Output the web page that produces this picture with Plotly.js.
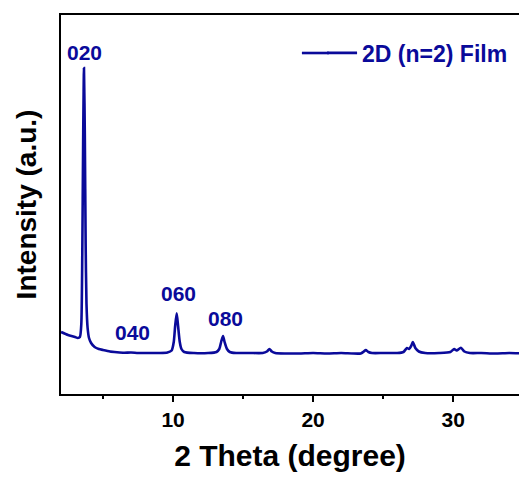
<!DOCTYPE html>
<html>
<head>
<meta charset="utf-8">
<script src="https://cdn.plot.ly/plotly-3.0.1.min.js"></script>
<style>html,body{margin:0;padding:0;background:#fff;}#chart{width:519px;height:477px;}</style>
</head>
<body>
<div id="chart"></div>
<script>
// 2 Theta (degree)
const twoTheta = [2.0, 2.5, 3.0, 3.2, 3.35, 3.45, 3.52, 3.58, 3.64, 3.70, 3.76, 3.82, 3.9, 4.0, 4.15, 4.4, 4.7, 5.0, 5.5, 6.0, 6.5, 7.0, 7.5, 8.0, 9.0, 9.6, 9.9, 10.05, 10.15, 10.26, 10.36, 10.48, 10.6, 10.8, 11.5, 12.5, 13.1, 13.3, 13.45, 13.57, 13.68, 13.85, 14.05, 14.5, 15.5, 16.4, 16.7, 16.88, 17.05, 17.3, 18.0, 19.0, 20.0, 21.0, 22.0, 23.4, 23.62, 23.76, 23.95, 24.2, 25.0, 26.0, 26.45, 26.7, 26.85, 27.0, 27.12, 27.3, 27.55, 28.0, 29.0, 29.8, 30.07, 30.25, 30.55, 30.8, 31.2, 32.0, 33.0, 34.0, 34.8];
// Intensity (a.u.)
const intensity = [62, 59, 57, 56, 57, 70, 140, 250, 326, 260, 150, 90, 66, 56, 51, 47, 45, 44, 42.5, 41.8, 41.3, 41.5, 41, 41, 41, 41.5, 43.5, 52, 68, 80.7, 68, 52, 45, 42, 41, 41, 42, 45, 53, 58, 52, 45, 42, 41, 41, 41, 42.5, 45, 42.5, 41, 40.5, 40.5, 41, 40.5, 41, 40.5, 42.5, 44, 42, 41, 41, 41, 42, 46, 45, 48, 52, 46, 42.5, 41, 41, 42, 45, 43.5, 46.3, 42.5, 41, 41, 40.5, 41, 40.7];
const seriesName = '2D (n=2) Film';
const peakLabels = ['020', '040', '060', '080'];
const peakLabelX = [3.71, 7.07, 10.36, 13.71];
const peakLabelY = [342, 62, 101, 76];
const xTickVals = [10, 20, 30];

const blue = '#0a0a9a';
const font = 'Liberation Sans, Arial, sans-serif';

const trace = {
  x: twoTheta, y: intensity, type: 'scatter', mode: 'lines', name: seriesName,
  line: {color: blue, width: 2.6, shape: 'spline', smoothing: 0.6}
};

const annotations = peakLabels.map((t, i) => ({
  x: peakLabelX[i], y: peakLabelY[i], xref: 'x', yref: 'y', text: t, showarrow: false,
  font: {family: font, size: 21, color: blue, weight: 'bold'}
}));

const layout = {
  width: 519, height: 477,
  margin: {l: 61, r: 0, t: 15, b: 83},
  paper_bgcolor: '#fff', plot_bgcolor: '#fff',
  showlegend: true,
  legend: {x: 0.57, y: 0.9, xanchor: 'left', yanchor: 'middle', bgcolor: 'rgba(0,0,0,0)', borderwidth: 0,
    font: {family: font, size: 23, color: blue, weight: 'bold'}},
  shapes: [{type: 'line', xref: 'paper', yref: 'paper', x0: 0.526, x1: 0.585, y0: 0.8997, y1: 0.8997,
    line: {color: blue, width: 2.6}}],
  xaxis: {
    range: [2, 34.7], showgrid: false, zeroline: false,
    showline: true, linecolor: '#000', linewidth: 2, mirror: true,
    ticks: 'outside', ticklen: 6, tickwidth: 2, tickcolor: '#000',
    tickvals: xTickVals, ticktext: xTickVals.map(String),
    minor: {tickvals: [5, 15, 25, 35], ticks: 'outside', ticklen: 3, tickwidth: 2, tickcolor: '#000'},
    tickfont: {family: font, size: 21, color: '#000', weight: 'bold'},
    title: {text: '2 Theta (degree)', font: {family: font, size: 30, color: '#000', weight: 'bold'}, standoff: 15}
  },
  yaxis: {
    range: [0, 379], showgrid: false, zeroline: false,
    showline: true, linecolor: '#000', linewidth: 2, mirror: false,
    ticks: '', showticklabels: false,
    title: {text: 'Intensity (a.u.)', font: {family: font, size: 28, color: '#000', weight: 'bold'}, standoff: 14}
  },
  annotations: annotations
};

Plotly.newPlot('chart', [trace], layout, {displayModeBar: false, staticPlot: true});
</script>
</body>
</html>
